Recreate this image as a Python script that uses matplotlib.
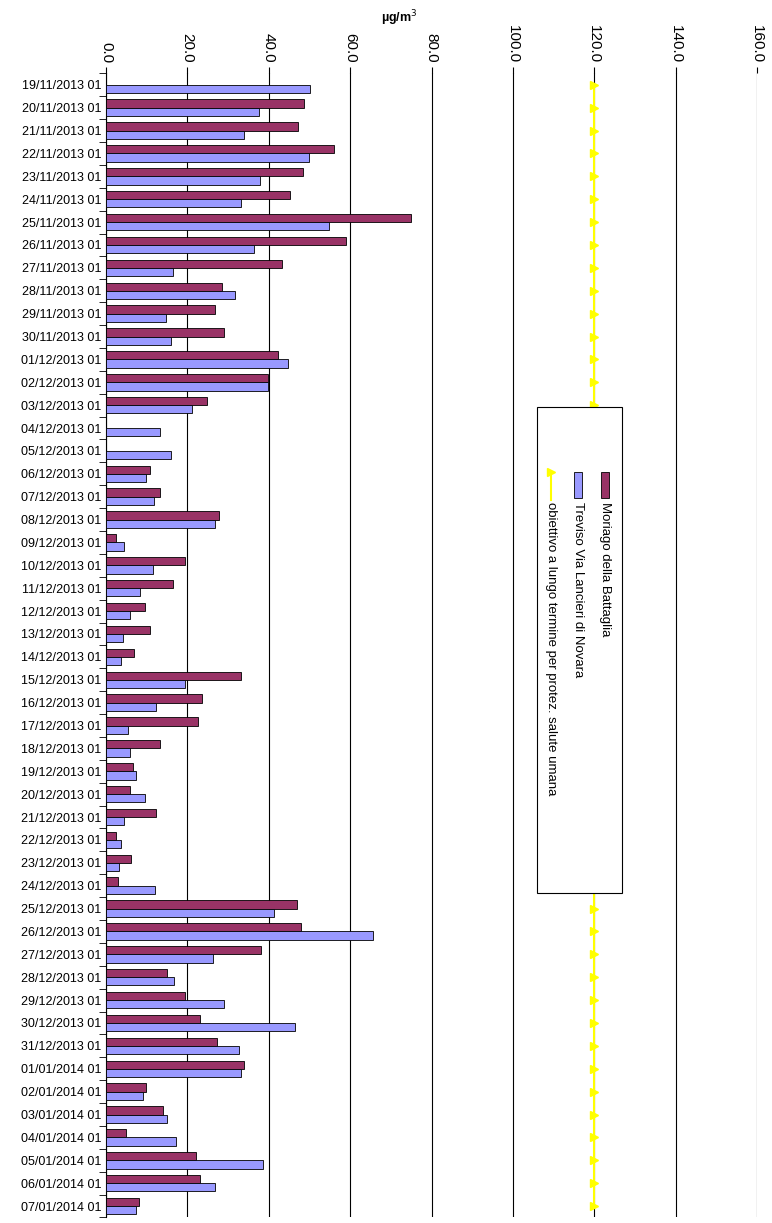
import matplotlib.pyplot as plt
import numpy as np
from matplotlib.patches import Rectangle

plt.rcParams['font.family'] = ['Liberation Sans', 'DejaVu Sans']

dates = ["19/11/2013", "20/11/2013", "21/11/2013", "22/11/2013", "23/11/2013", "24/11/2013",
         "25/11/2013", "26/11/2013", "27/11/2013", "28/11/2013", "29/11/2013", "30/11/2013",
         "01/12/2013", "02/12/2013", "03/12/2013", "04/12/2013", "05/12/2013", "06/12/2013",
         "07/12/2013", "08/12/2013", "09/12/2013", "10/12/2013", "11/12/2013", "12/12/2013",
         "13/12/2013", "14/12/2013", "15/12/2013", "16/12/2013", "17/12/2013", "18/12/2013",
         "19/12/2013", "20/12/2013", "21/12/2013", "22/12/2013", "23/12/2013", "24/12/2013",
         "25/12/2013", "26/12/2013", "27/12/2013", "28/12/2013", "29/12/2013", "30/12/2013",
         "31/12/2013", "01/01/2014", "02/01/2014", "03/01/2014", "04/01/2014", "05/01/2014",
         "06/01/2014", "07/01/2014"]
labels = [d + " 01" for d in dates]

moriago = [0, 48.6, 47.2, 56.0, 48.4, 45.2, 75.0, 59.0, 43.2, 28.4, 26.7, 29.1,
           42.2, 39.8, 24.9, 0, 0, 10.9, 13.3, 27.7, 2.5, 19.5, 16.5, 9.6,
           10.9, 6.9, 33.3, 23.7, 22.5, 13.3, 6.7, 5.9, 12.3, 2.5, 6.2, 3.0,
           46.9, 47.9, 38.0, 15.1, 19.5, 23.0, 27.4, 33.8, 9.9, 14.1, 4.9, 22.2,
           23.0, 8.1]
treviso = [50.1, 37.5, 33.8, 49.9, 37.8, 33.3, 54.8, 36.3, 16.5, 31.6, 14.8, 16.0,
           44.7, 39.8, 21.2, 13.3, 16.0, 9.9, 11.9, 26.7, 4.4, 11.6, 8.4, 5.9,
           4.2, 3.7, 19.3, 12.3, 5.4, 5.9, 7.4, 9.6, 4.4, 3.7, 3.2, 12.1,
           41.2, 65.7, 26.2, 16.8, 29.1, 46.4, 32.8, 33.3, 9.1, 15.1, 17.3, 38.5,
           26.9, 7.4]
obiettivo = [120.0] * len(dates)

col_m = "#993366"
col_t = "#9999FF"

fig = plt.figure(figsize=(7.72, 12.23), dpi=100)
ax = fig.add_axes([0.1373, 0.0045, 0.8433, 0.9355])
y = np.arange(len(dates))
h = 0.36
ax.barh(y - h / 2, moriago, height=h, color=col_m, edgecolor="black", linewidth=0.6, zorder=3)
ax.barh(y + h / 2, treviso, height=h, color=col_t, edgecolor="black", linewidth=0.6, zorder=3)
ax.plot(obiettivo, y, color="#FFFF00", marker=">", markersize=6, linewidth=1.5, zorder=3)

ax.set_xlim(0, 160)
ax.set_ylim(len(dates) - 0.5, -0.5)
ax.set_xticks(np.arange(0, 161, 20))
ax.set_xticklabels([f"{v:.1f}" for v in np.arange(0, 161, 20)], rotation=-90, fontsize=11)
ax.xaxis.tick_top()
ax.xaxis.set_label_position("top")
ax.set_xlabel("µg/m$^3$", fontsize=9, fontweight="bold")
ax.xaxis.set_label_coords(0.45, 1.045)
ax.grid(axis="x", color="black", linewidth=0.8, zorder=0)
ax.set_yticks(y)
ax.set_yticklabels(labels, fontsize=9)
ax.set_yticks(np.arange(-0.5, len(dates), 1), minor=True)
ax.tick_params(axis="y", which="major", length=0)
ax.tick_params(axis="y", which="minor", length=5)
ax.tick_params(axis="x", length=4)
for s in ["top", "right", "bottom"]:
    ax.spines[s].set_visible(False)

# legend, drawn rotated
lx0, lx1 = 537 / 772, 622 / 772
ly0, ly1 = 1 - 893 / 1223, 1 - 407 / 1223
fig.patches.append(Rectangle((lx0, ly0), lx1 - lx0, ly1 - ly0, transform=fig.transFigure,
                             facecolor="white", edgecolor="black", linewidth=0.8, zorder=5))
entries = [("Moriago della Battaglia", 605), ("Treviso Via Lancieri di Novara", 578),
           ("obiettivo a lungo termine per protez. salute umana", 551)]
for i, (txt, px) in enumerate(entries):
    xf = px / 772
    if i < 2:
        c = col_m if i == 0 else col_t
        fig.patches.append(Rectangle((xf - 0.005, 1 - 498 / 1223), 0.010, 26 / 1223,
                                     transform=fig.transFigure, facecolor=c,
                                     edgecolor="black", linewidth=0.6, zorder=6))
    else:
        fig.lines.append(plt.Line2D([xf, xf], [1 - 500 / 1223, 1 - 472 / 1223],
                                    transform=fig.transFigure, color="#FFFF00", linewidth=1.5,
                                    marker=">", markersize=6, markevery=[1], zorder=6))
    fig.text(xf, 1 - 502 / 1223, txt, rotation=-90, ha="center", va="top", fontsize=9.5, zorder=7)

fig.savefig("out.png")
